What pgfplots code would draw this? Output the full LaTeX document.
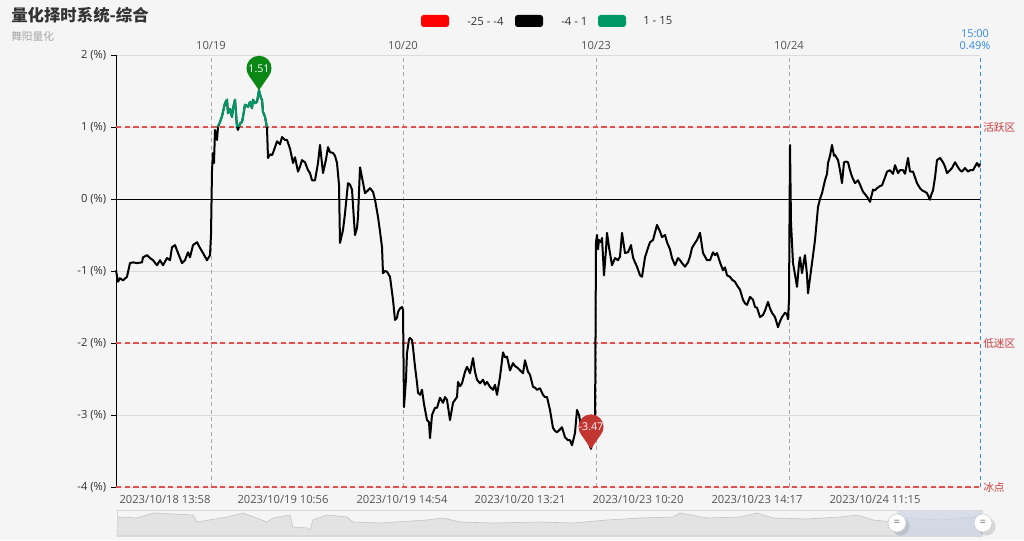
\documentclass[border=0pt]{standalone}
\usepackage{fontspec}
\setmainfont{Open Sans}
\newfontfamily\cjk{Noto Sans CJK SC}
\usepackage{pgfplots}
\pgfplotsset{compat=1.18}
\usetikzlibrary{shadows}

\definecolor{bg}{RGB}{245,245,245}
\definecolor{txt}{RGB}{51,51,51}
\definecolor{lbl}{RGB}{85,85,85}
\definecolor{zonered}{RGB}{222,82,82}
\definecolor{zonetxt}{RGB}{200,60,60}
\definecolor{greenline}{RGB}{0,153,102}
\definecolor{pingreen}{RGB}{10,135,20}
\definecolor{pinred}{RGB}{194,53,49}
\definecolor{blueend}{RGB}{51,136,230}
\definecolor{selblue}{RGB}{205,214,230}

% map pin: tip on the data point, round head above it
\pgfdeclareplotmark{pin}{%
  \pgfpathmoveto{\pgfpoint{0pt}{0pt}}%
  \pgfpathlineto{\pgfpoint{-7.7pt}{11.2pt}}%
  \pgfpathlineto{\pgfpoint{7.7pt}{11.2pt}}%
  \pgfpathclose
  \pgfusepathqfill
  \pgfpathcircle{\pgfpoint{0pt}{16.5pt}}{9.4pt}%
  \pgfusepathqfill
}

\pgfplotstableread{
x v
116 -0.99
118 -1.15
120 -1.10
123 -1.13
127 -1.08
130 -0.89
133 -0.88
137 -0.89
142 -0.88
143 -0.81
147 -0.78
150 -0.82
153 -0.85
157 -0.92
160 -0.85
163 -0.92
167 -0.82
170 -0.85
172 -0.67
175 -0.64
178 -0.75
182 -0.89
185 -0.85
188 -0.74
190 -0.81
193 -0.64
197 -0.60
200 -0.68
203 -0.75
207 -0.85
210 -0.78
211 -0.50
212 0.40
213 0.64
214 0.50
215 0.96
217 0.82
218 1.00
220 1.07
222 1.15
225 1.33
227 1.38
228 1.19
230 1.25
232 1.14
233 1.26
235 1.38
237 1.00
238 0.96
240 1.05
242 1.07
243 1.14
245 1.31
248 1.28
250 1.35
252 1.26
253 1.38
255 1.33
257 1.35
259 1.51
261 1.40
262 1.38
263 1.21
265 1.14
267 0.99
268 0.57
270 0.62
272 0.61
273 0.64
275 0.72
277 0.80
280 0.76
282 0.86
285 0.82
287 0.82
290 0.70
293 0.50
295 0.58
298 0.38
300 0.45
302 0.54
305 0.51
308 0.40
310 0.36
312 0.26
315 0.26
318 0.50
320 0.75
323 0.36
326 0.55
328 0.72
330 0.65
333 0.64
335 0.60
337 0.50
339 0.20
340 -0.61
343 -0.43
345 -0.20
348 0.22
350 0.20
352 0.13
354 -0.30
355 -0.50
357 -0.40
358 -0.25
360 0.44
362 0.30
365 0.08
368 0.12
370 0.15
373 0.10
375 -0.01
378 -0.25
380 -0.45
382 -0.67
383 -1.03
385 -1.00
387 -1.01
390 -1.08
393 -1.40
395 -1.68
397 -1.65
398 -1.57
400 -1.52
402 -1.50
403 -1.54
404 -2.89
406 -2.50
407 -2.14
409 -1.95
410 -1.93
412 -1.96
413 -2.06
415 -2.33
417 -2.55
418 -2.69
420 -2.72
422 -2.65
424 -2.85
427 -3.07
429 -3.10
430 -3.32
432 -3.00
435 -2.90
437 -2.90
440 -2.76
443 -2.83
445 -2.75
447 -2.79
450 -3.07
453 -2.83
457 -2.75
458 -2.54
460 -2.60
462 -2.56
465 -2.40
467 -2.33
470 -2.42
473 -2.21
475 -2.40
477 -2.51
480 -2.56
483 -2.51
485 -2.58
487 -2.54
490 -2.61
493 -2.65
495 -2.58
497 -2.72
500 -2.47
503 -2.13
505 -2.20
507 -2.19
510 -2.38
513 -2.28
515 -2.32
518 -2.35
520 -2.38
523 -2.42
525 -2.24
528 -2.40
530 -2.44
533 -2.61
535 -2.62
537 -2.65
540 -2.63
543 -2.72
545 -2.75
547 -2.75
550 -2.93
553 -3.18
555 -3.22
557 -3.24
560 -3.20
562 -3.17
565 -3.31
568 -3.35
570 -3.35
572 -3.42
575 -3.25
577 -2.93
579 -3.00
581 -3.15
583 -3.20
585 -3.30
587 -3.35
589 -3.40
591 -3.47
593 -3.35
595 -3.20
596 -0.60
597 -0.50
598 -0.70
599 -0.57
601 -0.60
602 -0.54
604 -1.06
606 -0.70
607 -0.47
609 -0.67
612 -0.92
615 -0.82
618 -0.85
620 -0.80
622 -0.47
625 -0.75
628 -0.74
631 -0.64
633 -0.81
635 -0.88
637 -0.94
640 -1.06
642 -1.08
645 -0.81
648 -0.68
650 -0.60
653 -0.57
657 -0.36
660 -0.45
662 -0.53
665 -0.50
667 -0.60
670 -0.70
672 -0.82
675 -0.92
678 -0.82
680 -0.85
682 -0.89
685 -0.94
688 -0.88
690 -0.80
692 -0.68
695 -0.61
697 -0.57
700 -0.47
703 -0.75
707 -0.85
710 -0.85
713 -0.74
715 -0.78
717 -0.75
720 -0.88
723 -0.99
725 -0.95
727 -1.06
730 -1.08
732 -1.12
735 -1.15
737 -1.20
740 -1.26
743 -1.40
745 -1.45
747 -1.47
750 -1.36
753 -1.40
755 -1.50
757 -1.51
760 -1.64
763 -1.61
765 -1.55
768 -1.43
770 -1.52
772 -1.58
775 -1.64
778 -1.78
780 -1.70
782 -1.64
785 -1.58
787 -1.60
788 -1.67
789 -1.40
790 0.75
791 -0.33
793 -0.89
795 -1.05
797 -1.22
799 -0.90
800 -0.81
802 -1.03
804 -0.85
805 -0.78
807 -1.05
808 -1.31
810 -1.10
812 -0.89
815 -0.57
818 -0.11
820 0.00
822 0.08
825 0.26
827 0.35
828 0.50
830 0.60
832 0.75
834 0.60
835 0.61
838 0.54
840 0.40
842 0.22
844 0.51
846 0.52
848 0.51
850 0.40
852 0.31
855 0.22
858 0.26
860 0.20
863 0.10
866 0.05
868 0.01
870 -0.04
873 0.13
875 0.12
877 0.15
880 0.18
882 0.19
885 0.30
887 0.38
890 0.40
893 0.35
895 0.47
898 0.36
900 0.40
903 0.40
905 0.35
908 0.57
910 0.38
913 0.38
915 0.30
917 0.22
920 0.15
922 0.12
925 0.10
927 0.08
930 -0.01
931 0.05
933 0.12
935 0.30
937 0.54
940 0.57
943 0.51
945 0.45
947 0.36
950 0.40
952 0.43
955 0.51
958 0.44
960 0.40
962 0.38
965 0.43
968 0.38
970 0.40
973 0.40
975 0.45
977 0.50
979 0.45
980 0.49
}\series

\begin{document}
\begin{tikzpicture}
\fill[bg] (0,0) rectangle (768pt,405pt);
\useasboundingbox (0,0) rectangle (768pt,405pt);

\begin{axis}[
  at={(87pt,39.75pt)}, anchor=south west,
  scale only axis, width=648pt, height=324pt,
  xmin=116, xmax=980, ymin=-4, ymax=2,
  axis lines*=left,
  x axis line style={draw=none},
  y axis line style={black, line width=0.6pt},
  tick align=outside,
  xtick={165,283,402,520,638,757,875},
  xticklabels={2023/10/18 13:58,2023/10/19 10:56,2023/10/19 14:54,2023/10/20 13:21,2023/10/23 10:20,2023/10/23 14:17,2023/10/24 11:15},
  xtick style={draw=none},
  xticklabel style={font=\fontsize{8.4}{10}\selectfont, text=lbl, yshift=1pt},
  ytick={-4,-3,-2,-1,0,1,2},
  yticklabels={-4 (\%),-3 (\%),-2 (\%),-1 (\%),0 (\%),1 (\%),2 (\%)},
  yticklabel style={font=\fontsize{8.4}{10}\selectfont, text=txt},
  ytick style={black, line width=0.6pt},
  major tick length=3.8pt,
  ymajorgrids, grid style={black!14, line width=0.6pt},
  clip=false,
]
  % day separators and the last point
  \addplot[gray!70, line width=0.6pt, dash pattern=on 3pt off 2.5pt] coordinates {(211,-4)(211,2)};
  \addplot[gray!70, line width=0.6pt, dash pattern=on 3pt off 2.5pt] coordinates {(403,-4)(403,2)};
  \addplot[gray!70, line width=0.6pt, dash pattern=on 3pt off 2.5pt] coordinates {(596,-4)(596,2)};
  \addplot[gray!70, line width=0.6pt, dash pattern=on 3pt off 2.5pt] coordinates {(789,-4)(789,2)};
  \addplot[blueend, line width=0.6pt, dash pattern=on 3pt off 2.5pt] coordinates {(980,-4)(980,2)};
  % zone lines
  \addplot[black, line width=0.6pt] coordinates {(116,0)(980,0)};
  \addplot[color=zonered, line width=0.8pt, dash pattern=on 4pt off 2.5pt] coordinates {(116,1)(980,1)};
  \addplot[color=zonered, line width=0.8pt, dash pattern=on 4pt off 2.5pt] coordinates {(116,-2)(980,-2)};
  \addplot[color=zonered, line width=0.8pt, dash pattern=on 4pt off 2.5pt] coordinates {(116,-4)(980,-4)};

  \addplot[black, line width=1.5pt, line join=round] table[x=x, y=v] {\series};
  \addplot[greenline, line width=1.5pt, line join=round] coordinates {
    (217.5,1.00)(220,1.07)(222,1.15)(225,1.33)(227,1.38)(228,1.19)(230,1.25)(232,1.14)(233,1.26)(235,1.38)(237,1.00)};
  \addplot[greenline, line width=1.5pt, line join=round] coordinates {
    (239,1.00)(240,1.05)(242,1.07)(243,1.14)(245,1.31)(248,1.28)(250,1.35)(252,1.26)(253,1.38)(255,1.33)(257,1.35)(259,1.51)(261,1.40)(262,1.38)(263,1.21)(265,1.14)(266.9,1.00)};

  % max / min pins
  \addplot[only marks, mark=pin, color=pingreen, nodes near coords={1.51},
    every node near coord/.style={anchor=center, yshift=16.5pt, inner sep=0pt, text=white, font=\fontsize{8}{9}\selectfont}]
    coordinates {(259,1.51)};
  \addplot[only marks, mark=pin, color=pinred, nodes near coords={-3.47},
    every node near coord/.style={anchor=center, yshift=16.5pt, inner sep=0pt, text=white, font=\fontsize{8}{9}\selectfont}]
    coordinates {(591,-3.47)};

  \node[anchor=west, text=zonetxt, font=\cjk\fontsize{8}{9}\selectfont, inner sep=0pt] at (axis cs:983,1) {活跃区};
  \node[anchor=west, text=zonetxt, font=\cjk\fontsize{8}{9}\selectfont, inner sep=0pt] at (axis cs:983,-2) {低迷区};
  \node[anchor=west, text=zonetxt, font=\cjk\fontsize{8}{9}\selectfont, inner sep=0pt] at (axis cs:983,-4) {冰点};

  \node[anchor=south, text=lbl, font=\fontsize{8.4}{10}\selectfont, inner sep=0pt] at (axis cs:211,2) [yshift=4pt] {10/19};
  \node[anchor=south, text=lbl, font=\fontsize{8.4}{10}\selectfont, inner sep=0pt] at (axis cs:403,2) [yshift=4pt] {10/20};
  \node[anchor=south, text=lbl, font=\fontsize{8.4}{10}\selectfont, inner sep=0pt] at (axis cs:596,2) [yshift=4pt] {10/23};
  \node[anchor=south, text=lbl, font=\fontsize{8.4}{10}\selectfont, inner sep=0pt] at (axis cs:789,2) [yshift=4pt] {10/24};
  \node[anchor=south, text=blueend, font=\fontsize{8.2}{8.8}\selectfont, align=center, inner sep=0pt] at (axis cs:975,2) [yshift=4pt] {15:00\\0.49\%};
\end{axis}

% data zoom strip
\begin{axis}[
  at={(87.75pt,3pt)}, anchor=south west,
  scale only axis, width=648.75pt, height=19.5pt,
  xmin=117, xmax=982, ymin=0, ymax=26,
  hide axis, clip=false,
]
  \addplot[fill=black!11, draw=black!22, line width=0.5pt] coordinates {
    (117,0)(118,19)(137,18)(153,23)(193,21)(197,14)(227,19)(243,23)(267,14)(273,18)(290,21)(293,9)(307,8)(310,6)(313,16)(327,21)(347,19)(353,14)(380,13)(427,16)(443,18)(460,14)(493,13)(540,14)(573,13)(607,16)(640,18)(673,19)(680,23)(707,18)(740,19)(757,23)(773,18)(807,17)(840,19)(857,21)(873,16)(893,14)(907,18)(940,16)(973,19)(982,21)(982,0)} \closedcycle;
  \addplot[fill=selblue, fill opacity=0.75, draw=none] coordinates {(897,0)(897,26)(982,26)(982,0)} \closedcycle;
  \draw[black!15, line width=0.5pt] (axis cs:117,0) rectangle (axis cs:982,26);
  \node[circle, fill=white, draw=black!20, drop shadow={opacity=0.25}, minimum size=13.5pt, inner sep=0pt, font=\fontsize{8}{8}\selectfont, text=black!60] at (axis cs:897,13) {=};
  \node[circle, fill=white, draw=black!20, drop shadow={opacity=0.25}, minimum size=13.5pt, inner sep=0pt, font=\fontsize{8}{8}\selectfont, text=black!60] at (axis cs:983,13) {=};
\end{axis}

% title and legend, in pixel coordinates of the 1024x540 frame
\begin{scope}[shift={(0,405pt)}, x=0.75pt, y=-0.75pt]
  \node[anchor=west, inner sep=0pt, text=txt, font=\cjk\bfseries\fontsize{12.3}{14}\selectfont] at (11,15) {量化择时系统-综合};
  \node[anchor=west, inner sep=0pt, text=black!35, font=\cjk\fontsize{8}{9}\selectfont] at (11,36) {舞阳量化};
  \fill[red, rounded corners=2pt] (421,15) rectangle (449,27);
  \node[anchor=west, inner sep=0pt, text=txt, font=\fontsize{8.5}{10}\selectfont] at (467,21) {-25 - -4};
  \fill[black, rounded corners=2pt] (515,15) rectangle (543,27);
  \node[anchor=west, inner sep=0pt, text=txt, font=\fontsize{8.5}{10}\selectfont] at (561,21) {-4 - 1};
  \fill[greenline, rounded corners=2pt] (598,15) rectangle (626,27);
  \node[anchor=west, inner sep=0pt, text=txt, font=\fontsize{8.5}{10}\selectfont] at (643,21) {1 - 15};
\end{scope}
\end{tikzpicture}
\end{document}
